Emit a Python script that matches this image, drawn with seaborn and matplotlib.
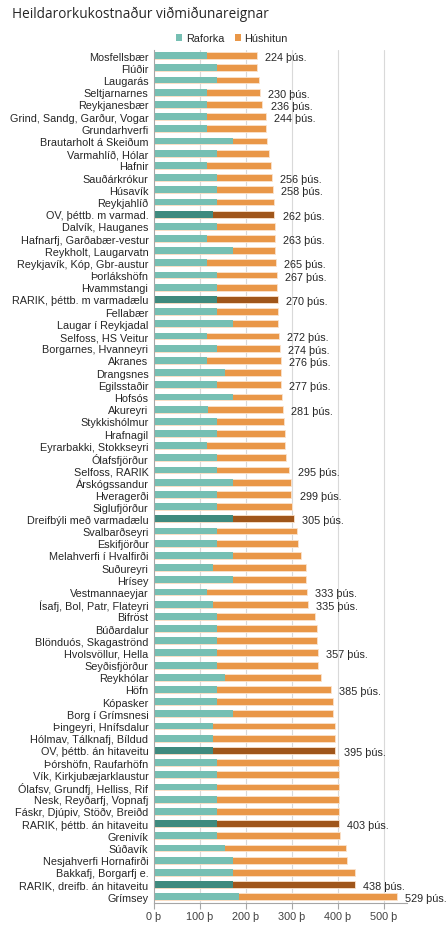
import matplotlib
matplotlib.use("Agg")
import matplotlib.pyplot as plt
from matplotlib.patches import Patch
import seaborn as sns
import pandas as pd

categories = [
    "Mosfellsbær", "Flúðir", "Laugarás", "Seltjarnarnes", "Reykjanesbær",
    "Grind, Sandg, Garður, Vogar", "Grundarhverfi", "Brautarholt á Skeiðum",
    "Varmahlíð, Hólar", "Hafnir", "Sauðárkrókur", "Húsavík", "Reykjahlíð",
    "OV, þéttb. m varmad.", "Dalvík, Hauganes", "Hafnarfj, Garðabær-vestur",
    "Reykholt, Laugarvatn", "Reykjavík, Kóp, Gbr-austur", "Þorlákshöfn",
    "Hvammstangi", "RARIK, þéttb. m varmadælu", "Fellabær", "Laugar í Reykjadal",
    "Selfoss, HS Veitur", "Borgarnes, Hvanneyri", "Akranes", "Drangsnes",
    "Egilsstaðir", "Hofsós", "Akureyri", "Stykkishólmur", "Hrafnagil",
    "Eyrarbakki, Stokkseyri", "Ólafsfjörður", "Selfoss, RARIK", "Árskógssandur",
    "Hveragerði", "Siglufjörður", "Dreifbýli með varmadælu", "Svalbarðseyri",
    "Eskifjörður", "Melahverfi í Hvalfirði", "Suðureyri", "Hrísey",
    "Vestmannaeyjar", "Ísafj, Bol, Patr, Flateyri", "Bifröst", "Búðardalur",
    "Blönduós, Skagaströnd", "Hvolsvöllur, Hella", "Seyðisfjörður", "Reykhólar",
    "Höfn", "Kópasker", "Borg í Grímsnesi", "Þingeyri, Hnífsdalur",
    "Hólmav, Tálknafj, Bíldud", "OV, þéttb. án hitaveitu", "Þórshöfn, Raufarhöfn",
    "Vík, Kirkjubæjarklaustur", "Ólafsv, Grundfj, Helliss, Rif",
    "Nesk, Reyðarfj, Vopnafj", "Fáskr, Djúpiv, Stöðv, Breiðd",
    "RARIK, þéttb. án hitaveitu", "Grenivík", "Súðavík",
    "Nesjahverfi Hornafirði", "Bakkafj, Borgarfj e.",
    "RARIK, dreifb. án hitaveitu", "Grímsey",
]

raforka = [
    116, 137, 137, 116, 115, 115, 116, 172, 137, 115, 137, 137, 137,
    129, 137, 116, 172, 116, 137, 137, 137, 137, 172, 115, 137, 116, 154,
    137, 172, 118, 137, 137, 115, 137, 137, 172, 137, 137, 172, 137,
    137, 172, 129, 172, 115, 129, 137, 137, 137, 137, 137, 154,
    137, 137, 172, 129, 129, 129, 137, 137, 137, 137, 137, 137, 137, 154,
    172, 172, 172, 186,
]

total = [
    224, 225, 229, 230, 236, 244, 243, 247, 251, 254, 256, 258, 261,
    262, 263, 263, 264, 265, 267, 268, 270, 271, 271, 272, 274, 276, 277,
    277, 278, 281, 283, 286, 286, 288, 295, 298, 299, 300, 305, 312,
    314, 321, 330, 331, 333, 335, 350, 355, 355, 357, 357, 364,
    385, 390, 390, 395, 395, 395, 403, 403, 403, 403, 403, 403, 405, 419,
    420, 437, 438, 529,
]

highlighted = [
    "OV, þéttb. m varmad.", "RARIK, þéttb. m varmadælu", "Dreifbýli með varmadælu",
    "OV, þéttb. án hitaveitu", "RARIK, þéttb. án hitaveitu", "RARIK, dreifb. án hitaveitu",
]

labelled = [
    "Mosfellsbær", "Seltjarnarnes", "Reykjanesbær", "Grind, Sandg, Garður, Vogar",
    "Sauðárkrókur", "Húsavík", "OV, þéttb. m varmad.", "Hafnarfj, Garðabær-vestur",
    "Reykjavík, Kóp, Gbr-austur", "Þorlákshöfn", "RARIK, þéttb. m varmadælu",
    "Selfoss, HS Veitur", "Borgarnes, Hvanneyri", "Akranes", "Egilsstaðir",
    "Akureyri", "Selfoss, RARIK", "Hveragerði", "Dreifbýli með varmadælu",
    "Vestmannaeyjar", "Ísafj, Bol, Patr, Flateyri", "Hvolsvöllur, Hella", "Höfn",
    "OV, þéttb. án hitaveitu", "RARIK, þéttb. án hitaveitu",
    "RARIK, dreifb. án hitaveitu", "Grímsey",
]

series_names = ["Raforka", "Húshitun"]
xticks = [0, 100, 200, 300, 400, 500]

df = pd.DataFrame({"cat": categories, "raforka": raforka, "total": total})
df["grp"] = ["hi" if c in highlighted else "lo" for c in df["cat"]]

TEAL, TEAL_D = "#76BFB3", "#3F8A7E"
ORANGE, BROWN = "#E99748", "#A0561A"

sns.set_theme(style="white")
plt.rcParams["font.family"] = ["Liberation Sans", "DejaVu Sans"]

fig = plt.figure(figsize=(4.46, 9.28), dpi=100)
ax = fig.add_axes([0.3453, 0.0261, 0.5664, 0.9194])

sns.barplot(data=df, y="cat", x="total", hue="grp", order=categories,
            palette={"lo": ORANGE, "hi": BROWN}, dodge=False, legend=False,
            saturation=1, width=0.56, edgecolor="#fbe3cc", linewidth=0.6,
            ax=ax, orient="h")
sns.barplot(data=df, y="cat", x="raforka", hue="grp", order=categories,
            palette={"lo": TEAL, "hi": TEAL_D}, dodge=False, legend=False,
            saturation=1, width=0.56, linewidth=0, ax=ax, orient="h")

ax.set_xlim(0, 550)
ax.set_ylim(len(categories) - 0.5, -0.5)
ax.set_xticks(xticks)
ax.set_xticklabels([f"{v} þ" for v in xticks])
ax.set_xlabel("")
ax.set_ylabel("")
ax.set_axisbelow(True)
for v in xticks[1:]:
    ax.axvline(v, color="#d9d9d9", lw=0.8, zorder=0)

for s in ["top", "right"]:
    ax.spines[s].set_visible(False)
for s in ["left", "bottom"]:
    ax.spines[s].set_color("#a6a6a6")
    ax.spines[s].set_linewidth(0.8)

ax.tick_params(axis="y", length=0, pad=4, labelsize=7.8, labelcolor="#262626")
ax.tick_params(axis="x", length=4, width=0.8, color="#a6a6a6", direction="out",
               pad=2, labelsize=7.8, labelcolor="#404040", bottom=True)

for i, (c, t) in enumerate(zip(categories, total)):
    if c in labelled:
        ax.text(t + 18, i + 0.12, f"{t} þús.", va="center", ha="left",
                fontsize=7.8, color="#262626", clip_on=False)

handles = [Patch(facecolor=TEAL, edgecolor="none"),
           Patch(facecolor=ORANGE, edgecolor="none")]
fig.legend(handles, series_names, loc="center", bbox_to_anchor=(0.52, 0.958),
           ncol=2, frameon=False, fontsize=7.8, handlelength=0.6,
           handleheight=0.6, handletextpad=0.3, columnspacing=1.0,
           labelcolor="#262626")

fig.text(0.027, 0.984, "Heildarorkukostnaður viðmiðunareignar", fontsize=9.8,
         family=["Open Sans", "DejaVu Sans"], color="#262626", va="center",
         ha="left")

fig.savefig("out.png", dpi=100)
